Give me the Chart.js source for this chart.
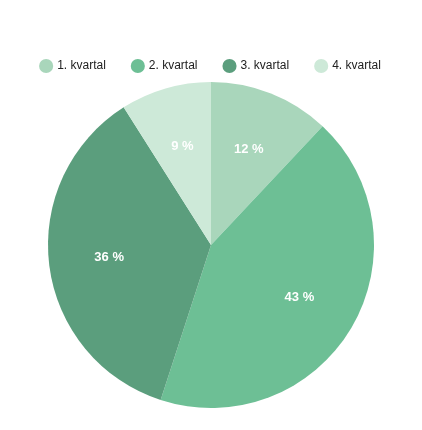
<!DOCTYPE html>
<html>
<head>
<meta charset="utf-8">
<script src="https://cdn.jsdelivr.net/npm/chart.js@4"></script>
<style>
  html, body { margin: 0; padding: 0; background: #fff; }
  #wrap { width: 422px; height: 430px; }
</style>
</head>
<body>
<div id="wrap"><canvas id="chart"></canvas></div>
<script>
const categories = ['1. kvartal', '2. kvartal', '3. kvartal', '4. kvartal'];
const values = [12, 43, 36, 9];
const colors = ['#a9d6bb', '#6dbf95', '#5b9e7d', '#cde9d8'];

// draws "12 %" etc. inside each slice
const sliceLabels = {
    id: 'sliceLabels',
    afterDatasetsDraw(chart) {
        const ctx = chart.ctx;
        const meta = chart.getDatasetMeta(0);
        ctx.save();
        ctx.fillStyle = '#ffffff';
        ctx.font = 'bold 13px "Liberation Sans", Arial, sans-serif';
        ctx.textAlign = 'center';
        ctx.textBaseline = 'middle';
        meta.data.forEach(function(arc, i) {
            const mid = (arc.startAngle + arc.endAngle) / 2;
            const r = arc.outerRadius * 0.63;
            ctx.fillText(values[i] + ' %', arc.x + Math.cos(mid) * r, arc.y + Math.sin(mid) * r);
        });
        ctx.restore();
    }
};

new Chart(document.getElementById('chart'), {
    type: 'pie',
    data: {
        labels: categories,
        datasets: [{
            data: values,
            backgroundColor: colors,
            borderWidth: 0
        }]
    },
    options: {
        responsive: true,
        maintainAspectRatio: false,
        animation: false,
        layout: { padding: { top: 33, bottom: 22 } },
        plugins: {
            tooltip: { enabled: false },
            legend: {
                position: 'top',
                labels: {
                    usePointStyle: true,
                    pointStyle: 'circle',
                    boxWidth: 10,
                    boxHeight: 10,
                    padding: 27,
                    color: '#222',
                    font: { family: '"Liberation Sans", Arial, sans-serif', size: 12 }
                }
            }
        }
    },
    plugins: [sliceLabels]
});
</script>
</body>
</html>
